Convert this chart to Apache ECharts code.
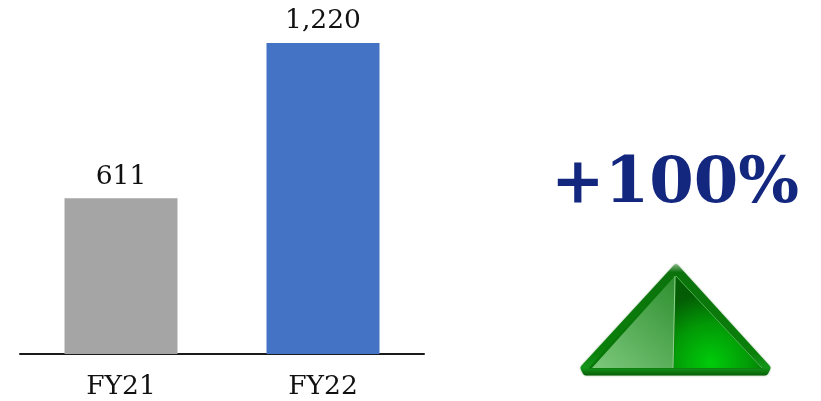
<!DOCTYPE html>
<html><head><meta charset="utf-8">
<style>html,body{margin:0;padding:0;background:#fff}#c{width:821px;height:401px}</style>
<script src="https://cdn.jsdelivr.net/npm/echarts@6/dist/echarts.min.js"></script>
</head><body><div id="c"></div>
<script>
const categories = ['FY21', 'FY22'];
const values = [611, 1220];
const barColors = ['#A5A5A5', '#4472C4'];
const changeLabel = '+100%';
const SERIF = '"DejaVu Serif",serif';
const stops = (pairs) => pairs.map(([offset,color])=>({offset,color}));
const chart = echarts.init(document.getElementById('c'), null, {renderer:'canvas'});
chart.setOption({
  animation:false,
  backgroundColor:'#fff',
  grid:{left:20,right:397,top:43,bottom:47},
  xAxis:{type:'category',data:categories,
    axisLine:{lineStyle:{color:'#1a1a1a',width:2}},axisTick:{show:false},
    axisLabel:{color:'#111',fontFamily:SERIF,fontSize:26.5,margin:20}},
  yAxis:{type:'value',min:0,max:1220,show:false,splitLine:{show:false}},
  series:[{type:'bar',barWidth:113,
    data:values.map((v,i)=>({value:v,itemStyle:{color:barColors[i]}})),
    label:{show:true,position:'top',distance:8,color:'#111',fontFamily:SERIF,fontSize:26.5,
      formatter:p=>p.value.toLocaleString('en-US')}}],
  graphic:[
    {type:'text',left:551,top:153,style:{text:changeLabel,fill:'#13277F',font:'bold 64px '+SERIF}},
    {type:'polygon',z:10,shape:{points:[[676,268],[767,368],[765,372],[586,372],[584,368]]},
      style:{fill:'#0A7A0A',
        stroke:new echarts.graphic.LinearGradient(0,0,0,1,stops([[0,'#7fb07f'],[0.07,'#0c720c'],[0.8,'#0a800a'],[0.93,'#14951a'],[1,'#065f06']])),
        lineWidth:7,lineJoin:'round',shadowBlur:2,shadowColor:'rgba(0,90,0,0.5)'}},
    {type:'polygon',z:11,shape:{points:[[675,276],[673,368],[592,368]]},
      style:{fill:new echarts.graphic.LinearGradient(1,0,0,1,stops([[0,'#2F8F2F'],[1,'#7CC87C']]))}},
    {type:'polygon',z:11,shape:{points:[[676,276],[762,368],[674,368]]},
      style:{fill:new echarts.graphic.RadialGradient(0.42,0.95,0.8,stops([[0,'#00CC0A'],[0.55,'#029A06'],[1,'#045C04']]))}},
    {type:'polyline',z:12,shape:{points:[[675,276],[673,368]]},style:{stroke:'#8fd08f',lineWidth:1,fill:null}},
    {type:'polyline',z:12,shape:{points:[[676,276],[762,368]]},style:{stroke:'#4fb04f',lineWidth:1,fill:null}}
  ]
});
</script></body></html>
